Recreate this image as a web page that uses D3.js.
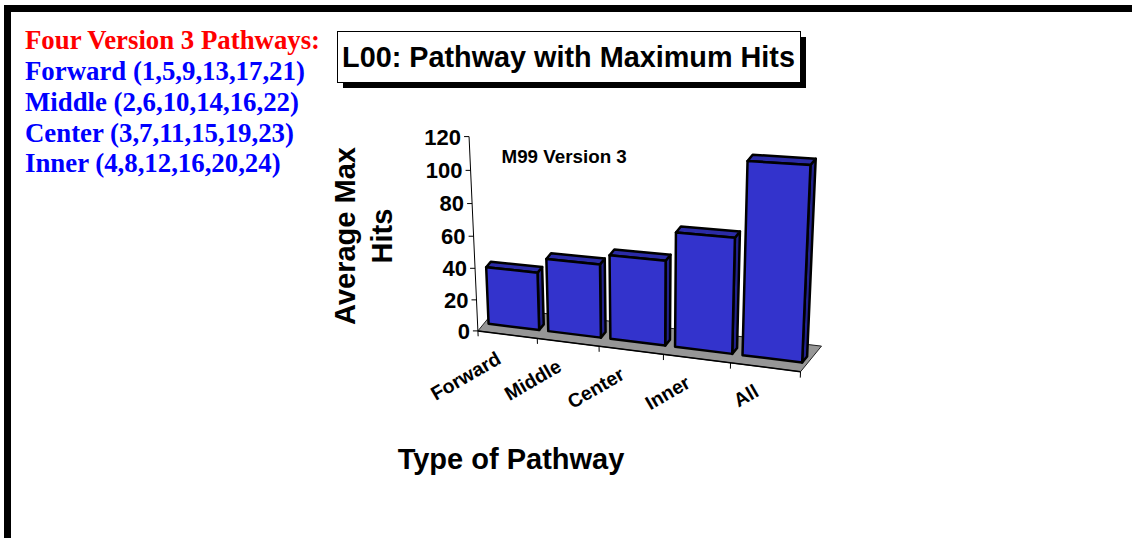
<!DOCTYPE html>
<html><head><meta charset="utf-8">
<script src="https://cdn.jsdelivr.net/npm/d3@7"></script>
<style>html,body{margin:0;padding:0;background:#fff;overflow:hidden}</style>
</head><body>
<svg id="chart" width="1132" height="538"></svg>
<script>
// ---------------- data ----------------
const categories = ["Forward", "Middle", "Center", "Inner", "All"];
const values = [36, 45, 51, 68, 111];
const yTicks = [0, 20, 40, 60, 80, 100, 120];
const legendTitle = "Four Version 3 Pathways:";
const legendLines = ["Forward (1,5,9,13,17,21)", "Middle (2,6,10,14,16,22)", "Center (3,7,11,15,19,23)", "Inner (4,8,12,16,20,24)"];
const chartTitle = "L00: Pathway with Maximum Hits";
const subTitle = "M99 Version 3";
const yLabelLines = ["Average Max", "Hits"];
const xLabel = "Type of Pathway";

// ---------------- setup ----------------
const svg = d3.select("#chart");
const SANS = "'Liberation Sans', Arial, Helvetica, sans-serif";
const SERIF = "'Liberation Serif', 'Times New Roman', serif";

// outer frame
svg.append("rect").attr("x", 7.5).attr("y", 8.5).attr("width", 1140).attr("height", 560)
  .attr("fill", "none").attr("stroke", "#000").attr("stroke-width", 7);

// legend text block
const leg = svg.append("g").attr("font-family", SERIF).attr("font-weight", "bold").attr("font-size", 26.8);
leg.append("text").attr("x", 25).attr("y", 49).attr("fill", "#FF0000").text(legendTitle);
legendLines.forEach((t, i) => {
  leg.append("text").attr("x", 25).attr("y", 80 + i * 30.8).attr("fill", "#0000FF").text(t);
});

// title box with shadow
svg.append("rect").attr("x", 343).attr("y", 37).attr("width", 463).attr("height", 51).attr("fill", "#000");
svg.append("rect").attr("x", 337.5).attr("y", 31.5).attr("width", 463).attr("height", 51)
  .attr("fill", "#fff").attr("stroke", "#000").attr("stroke-width", 1);
svg.append("text").attr("x", 568.5).attr("y", 66.5).attr("text-anchor", "middle")
  .attr("font-family", SANS).attr("font-weight", "bold").attr("font-size", 28.8).attr("fill", "#000")
  .text(chartTitle);

// ---------------- 3D projection (perspective plane + depth) ----------------
const O = [484.2, 323.2];       // origin of bar front plane on screen
const VH = [-2500, -45.9];      // vanishing point along categories
const VV = [647, 4044];         // vanishing point along values
const aN = -0.09775, bN = -0.04973;
const DEPTH = [4.5, -5.5];      // screen offset per unit of depth
function P(U, V, z) {
  const den = 1 + aN * U + bN * V;
  const x = (O[0] + aN * U * VH[0] + bN * V * VV[0]) / den + z * DEPTH[0] / den;
  const y = (O[1] + aN * U * VH[1] + bN * V * VV[1]) / den + z * DEPTH[1] / den;
  return [x, y];
}

const xBand = d3.scaleBand().domain(categories).range([0, 1]).paddingInner(0.15).paddingOuter(0.075);
const xEdge = d3.scaleLinear().domain([0, categories.length]).range([0, 1]);
const yScale = d3.scaleLinear().domain([0, 120]).range([0, 1]);
const zFront = -1.4, zBack = 2.8;

const poly = pts => "M" + pts.map(p => p[0].toFixed(2) + "," + p[1].toFixed(2)).join("L") + "Z";

// floor
svg.append("path")
  .attr("d", poly([P(0, 0, zFront), P(1, 0, zFront), P(1, 0, zBack), P(0, 0, zBack)]))
  .attr("fill", "#969696").attr("stroke", "#222").attr("stroke-width", 1);
// floor front edge (category axis)
svg.append("path").attr("d", "M" + P(0, 0, zFront).join(",") + "L" + P(1, 0, zFront).join(","))
  .attr("stroke", "#000").attr("stroke-width", 1.5).attr("fill", "none");
// category ticks
d3.range(categories.length + 1).forEach(i => {
  const a = P(xEdge(i), 0, zFront), b = P(xEdge(i), yScale(-3.5), zFront);
  svg.append("line").attr("x1", a[0]).attr("y1", a[1]).attr("x2", b[0]).attr("y2", b[1])
    .attr("stroke", "#000").attr("stroke-width", 1);
});

// value axis
{
  const a = P(0, yScale(0), zFront), b = P(0, yScale(120), zFront);
  svg.append("line").attr("x1", a[0]).attr("y1", a[1]).attr("x2", b[0]).attr("y2", b[1])
    .attr("stroke", "#000").attr("stroke-width", 1);
  const ax = svg.append("g").attr("font-family", SANS).attr("font-weight", "bold").attr("font-size", 22);
  yTicks.forEach(t => {
    const p = P(0, yScale(t), zFront);
    ax.append("line").attr("x1", p[0] - 5).attr("y1", p[1]).attr("x2", p[0]).attr("y2", p[1])
      .attr("stroke", "#000").attr("stroke-width", 1);
    ax.append("text").attr("x", p[0] - 8).attr("y", p[1]).attr("dy", "0.36em")
      .attr("text-anchor", "end").attr("fill", "#000").text(t);
  });
}

// bars
const bars = svg.append("g").attr("stroke", "#000").attr("stroke-width", 2.5).attr("stroke-linejoin", "round");
categories.forEach((c, i) => {
  const u0 = xBand(c), u1 = xBand(c) + xBand.bandwidth();
  const v = yScale(values[i]);
  bars.append("path").attr("fill", "#22228C")
    .attr("d", poly([P(u1, 0, 0), P(u1, 0, 1), P(u1, v, 1), P(u1, v, 0)]));
  bars.append("path").attr("fill", "#2B2BA6")
    .attr("d", poly([P(u0, v, 0), P(u1, v, 0), P(u1, v, 1), P(u0, v, 1)]));
  bars.append("path").attr("fill", "#3333CC")
    .attr("d", poly([P(u0, 0, 0), P(u1, 0, 0), P(u1, v, 0), P(u0, v, 0)]));
});

// category labels
const cl = svg.append("g").attr("font-family", SANS).attr("font-weight", "bold").attr("font-size", 19.5);
categories.forEach((c, i) => {
  const p = P(xEdge(i + 0.5), 0, zFront);
  cl.append("text").attr("text-anchor", "end").attr("fill", "#000")
    .attr("transform", `translate(${p[0] - 5},${p[1] + 28}) rotate(-30)`).text(c);
});

// subtitle inside plot
svg.append("text").attr("x", 501.5).attr("y", 163.3)
  .attr("font-family", SANS).attr("font-weight", "bold").attr("font-size", 18.8).attr("fill", "#000")
  .text(subTitle);

// y axis title
const yl = svg.append("g").attr("font-family", SANS).attr("font-weight", "bold").attr("font-size", 29)
  .attr("text-anchor", "middle").attr("fill", "#000");
yLabelLines.forEach((t, i) => {
  yl.append("text").attr("transform", `translate(${355 + i * 37},236) rotate(-90)`).text(t);
});

// x axis title
svg.append("text").attr("x", 511).attr("y", 469).attr("text-anchor", "middle")
  .attr("font-family", SANS).attr("font-weight", "bold").attr("font-size", 29).attr("fill", "#000")
  .text(xLabel);
</script>
</body></html>
